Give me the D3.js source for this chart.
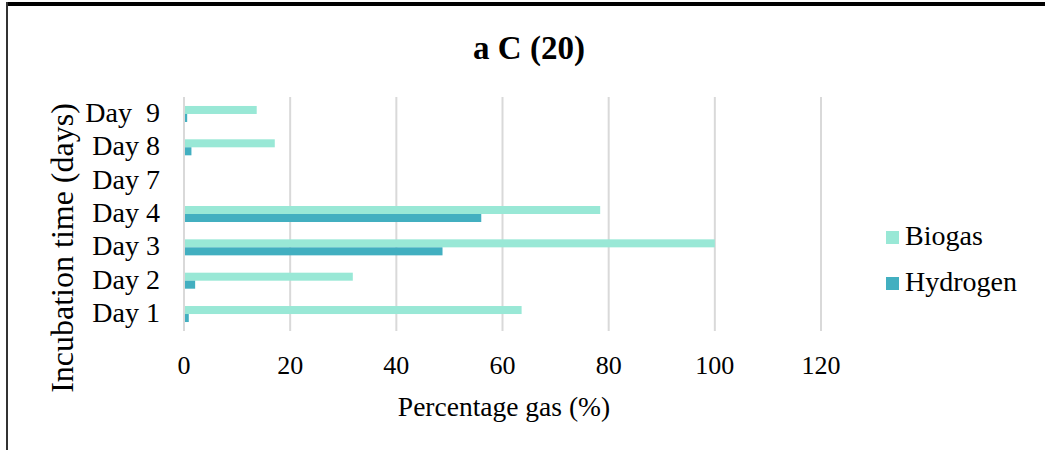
<!DOCTYPE html>
<html>
<head>
<meta charset="utf-8">
<script src="https://cdn.jsdelivr.net/npm/d3@7"></script>
<style>
  html, body { margin: 0; padding: 0; background: #fff; }
  svg text { font-family: "Liberation Serif", "Times New Roman", serif; fill: #000; }
</style>
</head>
<body>
<svg id="chart" width="1045" height="450"></svg>
<script>
// categories, top to bottom as drawn
const dias = ["Day  9", "Day 8", "Day 7", "Day 4", "Day 3", "Day 2", "Day 1"];
const series = ["Biogas", "Hydrogen"];
const biogas = [13.7, 17.1, 0, 78.4, 100, 31.8, 63.6];
const hydrogen = [0.6, 1.4, 0, 56.0, 48.7, 2.1, 0.9];
const xTicks = [0, 20, 40, 60, 80, 100, 120];
const cores = { Biogas: "#99e8d6", Hydrogen: "#42afc0" };

const svg = d3.select("#chart");

// moldura
svg.append("line").attr("x1", 7).attr("x2", 1045).attr("y1", 4).attr("y2", 4)
  .attr("stroke", "#000").attr("stroke-width", 4);
svg.append("line").attr("x1", 7).attr("x2", 7).attr("y1", 2).attr("y2", 450)
  .attr("stroke", "#333").attr("stroke-width", 2);

// escalas
const x = d3.scaleLinear().domain([0, 120]).range([184, 821]);
const y = d3.scaleBand().domain(dias).range([97.3, 330.7]).paddingInner(0.52).paddingOuter(0.26);
const ySub = d3.scaleBand().domain(series).range([0, y.bandwidth()]);

// grelha
svg.append("g").selectAll("line").data(xTicks).enter().append("line")
  .attr("x1", d => x(d)).attr("x2", d => x(d))
  .attr("y1", 97).attr("y2", 331)
  .attr("stroke", "#d9d9d9").attr("stroke-width", 2);

// barras
const linhas = dias.map((d, i) => ({ dia: d, Biogas: biogas[i], Hydrogen: hydrogen[i] }));
const grupos = svg.append("g").selectAll("g").data(linhas).enter().append("g")
  .attr("transform", d => `translate(0,${y(d.dia)})`);
grupos.selectAll("rect")
  .data(d => series.map(s => ({ s, v: d[s] })))
  .enter().append("rect")
  .attr("x", x(0) + 1)
  .attr("y", d => ySub(d.s))
  .attr("height", ySub.bandwidth())
  .attr("width", d => Math.max(0, x(d.v) - x(0) - 1))
  .attr("fill", d => cores[d.s]);

// eixo y (rótulos)
svg.append("g").selectAll("text").data(dias).enter().append("text")
  .attr("x", 160).attr("y", d => y(d) + y.bandwidth() / 2 + 8)
  .attr("text-anchor", "end").attr("font-size", 28)
  .style("white-space", "pre")
  .text(d => d);

// eixo x (rótulos)
svg.append("g").selectAll("text").data(xTicks).enter().append("text")
  .attr("x", d => x(d)).attr("y", 374)
  .attr("text-anchor", "middle").attr("font-size", 26)
  .text(d => d);

// títulos
svg.append("text").attr("x", 529).attr("y", 59).attr("text-anchor", "middle")
  .attr("font-size", 33).attr("font-weight", "bold").text("a C (20)");
svg.append("text").attr("x", 504).attr("y", 416).attr("text-anchor", "middle")
  .attr("font-size", 27.5).text("Percentage gas (%)");
svg.append("text").attr("transform", "translate(73,248) rotate(-90)")
  .attr("text-anchor", "middle").attr("font-size", 32).text("Incubation time (days)");

// legenda
const leg = svg.append("g").selectAll("g").data(series).enter().append("g")
  .attr("transform", (d, i) => `translate(886,${231 + i * 46})`);
leg.append("rect").attr("width", 13).attr("height", 13).attr("fill", d => cores[d]);
leg.append("text").attr("x", 19).attr("y", 14).attr("font-size", 28).text(d => d);
</script>
</body>
</html>
